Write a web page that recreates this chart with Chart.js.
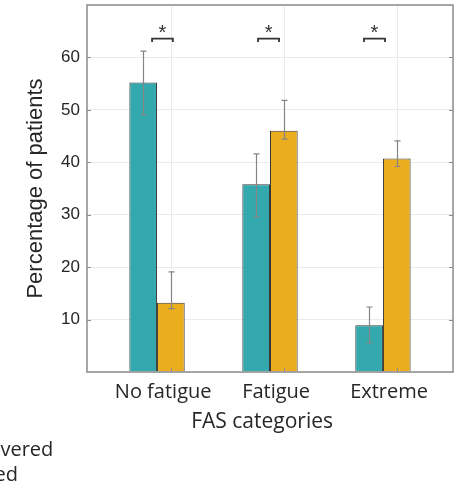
<!DOCTYPE html>
<html>
<head>
<meta charset="utf-8">
<script src="https://cdn.jsdelivr.net/npm/chart.js@4"></script>
<style>
  body { margin: 0; background: #fff; }
  canvas { display: block; }
</style>
</head>
<body>
<canvas id="fasChart" width="459" height="489"></canvas>
<script>
// FAS categories and group positions on the x axis
const categories = ["No fatigue", "Fatigue", "Extreme"];
const groupX = [1, 2, 3];
const xTicks = [1.125, 2.125, 3.125];

// Percentage of patients per group, with lower/upper error limits
const seriesLabels = ["Not recovered", "Recovered"];
const tealValues = [55.2, 35.8, 8.9];
const tealLow = [49.1, 29.6, 5.6];
const tealHigh = [61.2, 41.6, 12.4];
const yellowValues = [13.2, 46.0, 40.7];
const yellowLow = [12.1, 44.4, 39.2];
const yellowHigh = [19.1, 51.8, 44.1];

// Significance brackets (x range in axis units) and their level
const bracketFrom = [0.956, 1.894, 2.832];
const bracketTo = [1.14, 2.08, 3.018];
const bracketLevel = 63.6;
const bracketMark = ["*", "*", "*"];

const yTicks = [10, 20, 30, 40, 50, 60];
const xTitle = "FAS categories";

const TEAL = "#33a9ad";
const YELLOW = "#e9ad1e";
const FRAME = "#8c8c8c";
const TEXT = "#262626";

function points(vals) {
    return vals.map((v, i) => ({ x: groupX[i], y: v }));
}

// error bars on top of every bar
const errorBars = {
    id: "errorBars",
    afterDatasetsDraw(chart) {
        const ctx = chart.ctx;
        const y = chart.scales.y;
        const limits = [[tealLow, tealHigh], [yellowLow, yellowHigh]];
        ctx.save();
        ctx.strokeStyle = "#858585";
        ctx.lineWidth = 1.2;
        chart.data.datasets.forEach((ds, d) => {
            const meta = chart.getDatasetMeta(d);
            meta.data.forEach((bar, i) => {
                const x = Math.round(bar.x) + 0.5;
                const lo = y.getPixelForValue(limits[d][0][i]);
                const hi = y.getPixelForValue(limits[d][1][i]);
                ctx.beginPath();
                ctx.moveTo(x, lo); ctx.lineTo(x, hi);
                ctx.moveTo(x - 3, lo); ctx.lineTo(x + 3, lo);
                ctx.moveTo(x - 3, hi); ctx.lineTo(x + 3, hi);
                ctx.stroke();
            });
        });
        ctx.restore();
    }
};

// box around the plot, inward tick marks, significance brackets, x title, legend text
const decorations = {
    id: "decorations",
    afterDraw(chart) {
        const ctx = chart.ctx;
        const a = chart.chartArea;
        const xs = chart.scales.x;
        const ys = chart.scales.y;
        ctx.save();
        ctx.strokeStyle = FRAME;
        ctx.lineWidth = 1.5;
        ctx.strokeRect(a.left, a.top, a.right - a.left, a.bottom - a.top);

        ctx.lineWidth = 1;
        ctx.beginPath();
        yTicks.forEach(t => {
            const py = Math.round(ys.getPixelForValue(t)) + 0.5;
            ctx.moveTo(a.left, py); ctx.lineTo(a.left + 4, py);
            ctx.moveTo(a.right, py); ctx.lineTo(a.right - 4, py);
        });
        xTicks.forEach(t => {
            const px = Math.round(xs.getPixelForValue(t)) + 0.5;
            ctx.moveTo(px, a.bottom); ctx.lineTo(px, a.bottom - 4);
        });
        ctx.stroke();

        ctx.strokeStyle = "#333";
        ctx.lineWidth = 1.8;
        ctx.fillStyle = "#333";
        ctx.font = "20px 'Liberation Sans'";
        ctx.textAlign = "center";
        ctx.textBaseline = "middle";
        bracketFrom.forEach((b, i) => {
            const x0 = xs.getPixelForValue(b);
            const x1 = xs.getPixelForValue(bracketTo[i]);
            const py = ys.getPixelForValue(bracketLevel);
            ctx.beginPath();
            ctx.moveTo(x0, py + 3.5); ctx.lineTo(x0, py);
            ctx.lineTo(x1, py); ctx.lineTo(x1, py + 3.5);
            ctx.stroke();
            ctx.fillText(bracketMark[i], (x0 + x1) / 2, py - 5);
        });

        ctx.fillStyle = TEXT;
        ctx.font = "21px 'Open Sans'";
        ctx.textBaseline = "alphabetic";
        ctx.fillText(xTitle, xs.getPixelForValue(1.93), 428);

        ctx.font = "20px 'Open Sans'";
        ctx.textAlign = "left";
        seriesLabels.forEach((s, i) => {
            ctx.fillText(s, -80, 456 + i * 25);
        });
        ctx.restore();
    }
};

const ctx = document.getElementById("fasChart").getContext("2d");
const chart = new Chart(ctx, {
    type: "bar",
    data: {
        datasets: [{
            label: seriesLabels[0],
            data: points(tealValues),
            backgroundColor: TEAL,
            borderColor: "#383838",
            borderWidth: 1
        }, {
            label: seriesLabels[1],
            data: points(yellowValues),
            backgroundColor: YELLOW,
            borderColor: "#383838",
            borderWidth: 1
        }]
    },
    options: {
        responsive: false,
        animation: false,
        layout: { padding: { top: 5, right: 6, left: 0, bottom: 0 } },
        categoryPercentage: 0.49,
        barPercentage: 1,
        plugins: {
            legend: { display: false },
            tooltip: { enabled: false }
        },
        scales: {
            x: {
                type: "linear",
                offset: false,
                min: 0.38,
                max: 3.62,
                afterBuildTicks: scale => {
                    scale.ticks = xTicks.map(v => ({ value: v }));
                },
                afterFit: scale => {
                    scale.height = 117;
                    scale.paddingLeft = 0;
                    scale.paddingRight = 0;
                },
                ticks: {
                    callback: (v, i) => categories[i],
                    labelOffset: -8,
                    padding: 8,
                    color: TEXT,
                    font: { family: "'Open Sans'", size: 20 }
                },
                grid: { color: "#ebebeb", drawTicks: false, offset: false },
                border: { display: false }
            },
            y: {
                min: 0,
                max: 70,
                afterBuildTicks: scale => {
                    scale.ticks = [0].concat(yTicks, [70]).map(v => ({ value: v }));
                },
                afterFit: scale => {
                    scale.width = 87;
                    scale.paddingTop = 0;
                    scale.paddingBottom = 0;
                },
                ticks: {
                    callback: v => (yTicks.includes(v) ? v : ""),
                    padding: 7,
                    color: TEXT,
                    font: { family: "'Liberation Sans'", size: 17 }
                },
                grid: { color: "#ebebeb", drawTicks: false },
                border: { display: false },
                title: {
                    display: true,
                    text: "Percentage of patients",
                    color: TEXT,
                    font: { family: "'Liberation Sans'", size: 22 },
                    padding: { top: 23, bottom: 0 }
                }
            }
        }
    },
    plugins: [errorBars, decorations]
});
</script>
</body>
</html>
